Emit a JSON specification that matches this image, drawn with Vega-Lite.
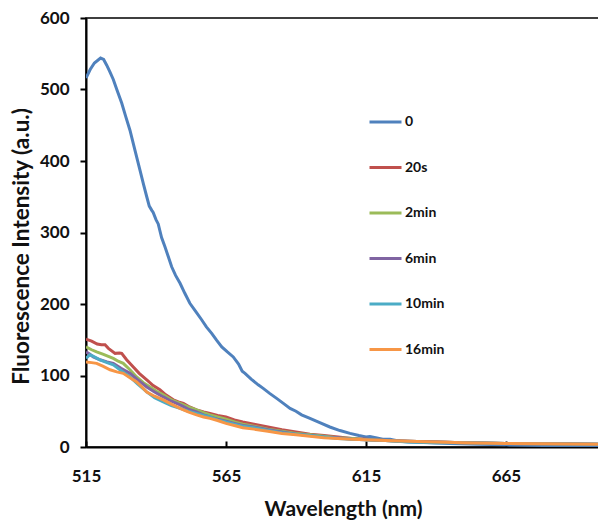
{
"$schema": "https://vega.github.io/schema/vega-lite/v6.json",
"autosize": "none",
"padding": {"left": 86, "top": 18, "right": 0, "bottom": 73},
"width": 514,
"height": 429,
"background": "white",
"config": {"view": {"stroke": "black", "strokeWidth": 1.5}, "font": "Lato"},
"data": {"values": [
{"s":"0","w":515,"v":516},{"s":"0","w":516.5,"v":528},{"s":"0","w":518,"v":537},{"s":"0","w":520.2,"v":544},{"s":"0","w":521.3,"v":542},{"s":"0","w":522.4,"v":534},{"s":"0","w":523.5,"v":525},{"s":"0","w":524.75,"v":514},{"s":"0","w":526,"v":500},{"s":"0","w":527.75,"v":481},{"s":"0","w":529.2,"v":462},{"s":"0","w":530.7,"v":443},{"s":"0","w":532.5,"v":415},{"s":"0","w":534.3,"v":387},{"s":"0","w":535.5,"v":368},{"s":"0","w":536.7,"v":350},{"s":"0","w":537.6,"v":337},{"s":"0","w":538.5,"v":331},{"s":"0","w":539,"v":328},{"s":"0","w":540,"v":318},{"s":"0","w":540.8,"v":312},{"s":"0","w":542,"v":293},{"s":"0","w":543.2,"v":280},{"s":"0","w":544.5,"v":265},{"s":"0","w":545.6,"v":252},{"s":"0","w":547,"v":240},{"s":"0","w":548.6,"v":229},{"s":"0","w":550.3,"v":215},{"s":"0","w":552.1,"v":201},{"s":"0","w":554.3,"v":189},{"s":"0","w":556.3,"v":178},{"s":"0","w":558,"v":168},{"s":"0","w":559.9,"v":159},{"s":"0","w":561.7,"v":149},{"s":"0","w":563.5,"v":140},{"s":"0","w":565.5,"v":133},{"s":"0","w":567.6,"v":126},{"s":"0","w":569.5,"v":116},{"s":"0","w":570.8,"v":106},{"s":"0","w":571.8,"v":103},{"s":"0","w":574,"v":95},{"s":"0","w":576.5,"v":87},{"s":"0","w":578.3,"v":82},{"s":"0","w":580.6,"v":75},{"s":"0","w":583.1,"v":68},{"s":"0","w":585.5,"v":61},{"s":"0","w":587.9,"v":54},{"s":"0","w":590,"v":50},{"s":"0","w":592,"v":45},{"s":"0","w":595,"v":40},{"s":"0","w":598.5,"v":34},{"s":"0","w":602.1,"v":28},{"s":"0","w":605.7,"v":23},{"s":"0","w":609.3,"v":19},{"s":"0","w":612.5,"v":16},{"s":"0","w":615,"v":14},{"s":"0","w":616.4,"v":14.5},{"s":"0","w":618.5,"v":13},{"s":"0","w":621,"v":11},{"s":"0","w":623.6,"v":11},{"s":"0","w":627,"v":8},{"s":"0","w":630.7,"v":7},{"s":"0","w":638,"v":6},{"s":"0","w":645,"v":5},{"s":"0","w":655,"v":4},{"s":"0","w":665,"v":3},{"s":"0","w":680,"v":2},{"s":"0","w":698.6,"v":2},
{"s":"20s","w":515,"v":151},{"s":"20s","w":517,"v":148},{"s":"20s","w":519,"v":144},{"s":"20s","w":520.5,"v":143},{"s":"20s","w":521.8,"v":143},{"s":"20s","w":523,"v":138},{"s":"20s","w":525.4,"v":131},{"s":"20s","w":527,"v":131.5},{"s":"20s","w":527.75,"v":131},{"s":"20s","w":529.5,"v":122},{"s":"20s","w":531.9,"v":112},{"s":"20s","w":534,"v":103},{"s":"20s","w":536.7,"v":94},{"s":"20s","w":539,"v":86},{"s":"20s","w":541.4,"v":80},{"s":"20s","w":543.5,"v":73},{"s":"20s","w":546.2,"v":66},{"s":"20s","w":548,"v":63},{"s":"20s","w":549.8,"v":61},{"s":"20s","w":552,"v":56},{"s":"20s","w":554.5,"v":52},{"s":"20s","w":557,"v":49},{"s":"20s","w":559.3,"v":47},{"s":"20s","w":562,"v":44},{"s":"20s","w":565,"v":42},{"s":"20s","w":568,"v":38},{"s":"20s","w":571,"v":35},{"s":"20s","w":575,"v":32},{"s":"20s","w":580,"v":28},{"s":"20s","w":585,"v":24},{"s":"20s","w":590,"v":21},{"s":"20s","w":595,"v":18},{"s":"20s","w":600,"v":16},{"s":"20s","w":605,"v":14},{"s":"20s","w":610,"v":12},{"s":"20s","w":615,"v":11},{"s":"20s","w":622,"v":9},{"s":"20s","w":630,"v":8},{"s":"20s","w":640,"v":7},{"s":"20s","w":650,"v":6},{"s":"20s","w":665,"v":5},{"s":"20s","w":680,"v":4.5},{"s":"20s","w":698.6,"v":4},
{"s":"2min","w":515,"v":140},{"s":"2min","w":517,"v":136},{"s":"2min","w":518.8,"v":133},{"s":"2min","w":521,"v":130},{"s":"2min","w":524.75,"v":124},{"s":"2min","w":526.5,"v":120},{"s":"2min","w":528.3,"v":117},{"s":"2min","w":530.7,"v":108},{"s":"2min","w":533.1,"v":98},{"s":"2min","w":535.5,"v":90},{"s":"2min","w":537.9,"v":84},{"s":"2min","w":540.2,"v":78},{"s":"2min","w":542.6,"v":73},{"s":"2min","w":545.5,"v":66},{"s":"2min","w":548.6,"v":61},{"s":"2min","w":551.5,"v":56},{"s":"2min","w":554.5,"v":52},{"s":"2min","w":557,"v":48},{"s":"2min","w":559.3,"v":45},{"s":"2min","w":562,"v":42},{"s":"2min","w":565,"v":39},{"s":"2min","w":568,"v":35},{"s":"2min","w":571,"v":32},{"s":"2min","w":575,"v":29},{"s":"2min","w":580,"v":25},{"s":"2min","w":585,"v":22},{"s":"2min","w":590,"v":19},{"s":"2min","w":595,"v":17},{"s":"2min","w":600,"v":15},{"s":"2min","w":605,"v":13},{"s":"2min","w":610,"v":12},{"s":"2min","w":615,"v":10},{"s":"2min","w":622,"v":9},{"s":"2min","w":630,"v":8},{"s":"2min","w":640,"v":7},{"s":"2min","w":650,"v":6},{"s":"2min","w":665,"v":5},{"s":"2min","w":680,"v":4.5},{"s":"2min","w":698.6,"v":4},
{"s":"6min","w":515,"v":133},{"s":"6min","w":516.3,"v":130},{"s":"6min","w":517.6,"v":126},{"s":"6min","w":520,"v":122},{"s":"6min","w":522.5,"v":119},{"s":"6min","w":524.75,"v":117},{"s":"6min","w":527.5,"v":110},{"s":"6min","w":530.7,"v":103},{"s":"6min","w":533.5,"v":94},{"s":"6min","w":536.7,"v":84},{"s":"6min","w":539.5,"v":77},{"s":"6min","w":542.6,"v":70},{"s":"6min","w":545.5,"v":64},{"s":"6min","w":548.6,"v":59},{"s":"6min","w":551.5,"v":53},{"s":"6min","w":554.5,"v":49},{"s":"6min","w":557,"v":45},{"s":"6min","w":559.3,"v":42},{"s":"6min","w":562,"v":39},{"s":"6min","w":565,"v":36},{"s":"6min","w":568,"v":33},{"s":"6min","w":571,"v":30},{"s":"6min","w":575,"v":28},{"s":"6min","w":580,"v":24},{"s":"6min","w":585,"v":21},{"s":"6min","w":590,"v":18},{"s":"6min","w":595,"v":16},{"s":"6min","w":600,"v":14},{"s":"6min","w":605,"v":13},{"s":"6min","w":610,"v":11},{"s":"6min","w":615,"v":10},{"s":"6min","w":622,"v":9},{"s":"6min","w":630,"v":8},{"s":"6min","w":640,"v":7},{"s":"6min","w":650,"v":6},{"s":"6min","w":665,"v":5},{"s":"6min","w":680,"v":4.5},{"s":"6min","w":698.6,"v":4},
{"s":"10min","w":515,"v":124},{"s":"10min","w":516.4,"v":129},{"s":"10min","w":517.5,"v":127},{"s":"10min","w":520,"v":122},{"s":"10min","w":522.5,"v":118},{"s":"10min","w":524.75,"v":115},{"s":"10min","w":527.5,"v":107},{"s":"10min","w":530.7,"v":98},{"s":"10min","w":533.5,"v":88},{"s":"10min","w":536.7,"v":77},{"s":"10min","w":539.5,"v":69},{"s":"10min","w":542.6,"v":63},{"s":"10min","w":545.5,"v":58},{"s":"10min","w":548.6,"v":54},{"s":"10min","w":551.5,"v":50},{"s":"10min","w":554.5,"v":47},{"s":"10min","w":557,"v":44},{"s":"10min","w":559.3,"v":42},{"s":"10min","w":562,"v":38},{"s":"10min","w":565,"v":35},{"s":"10min","w":568,"v":32},{"s":"10min","w":571,"v":29},{"s":"10min","w":575,"v":27},{"s":"10min","w":580,"v":23},{"s":"10min","w":585,"v":20},{"s":"10min","w":590,"v":18},{"s":"10min","w":595,"v":16},{"s":"10min","w":600,"v":14},{"s":"10min","w":605,"v":12},{"s":"10min","w":610,"v":11},{"s":"10min","w":615,"v":10},{"s":"10min","w":622,"v":9},{"s":"10min","w":630,"v":7},{"s":"10min","w":640,"v":6},{"s":"10min","w":650,"v":6},{"s":"10min","w":665,"v":5},{"s":"10min","w":680,"v":4.5},{"s":"10min","w":698.6,"v":4},
{"s":"16min","w":515,"v":119},{"s":"16min","w":517,"v":118},{"s":"16min","w":518.8,"v":117},{"s":"16min","w":521,"v":113},{"s":"16min","w":523.6,"v":108},{"s":"16min","w":526,"v":105},{"s":"16min","w":528.3,"v":103},{"s":"16min","w":530.7,"v":97},{"s":"16min","w":533.1,"v":91},{"s":"16min","w":535,"v":84},{"s":"16min","w":536.7,"v":77},{"s":"16min","w":539.5,"v":71},{"s":"16min","w":542.6,"v":66},{"s":"16min","w":545.5,"v":60},{"s":"16min","w":548.6,"v":54},{"s":"16min","w":551.5,"v":49},{"s":"16min","w":554.5,"v":45},{"s":"16min","w":557,"v":42},{"s":"16min","w":559.3,"v":40},{"s":"16min","w":562,"v":37},{"s":"16min","w":565,"v":33},{"s":"16min","w":568,"v":30},{"s":"16min","w":571,"v":27},{"s":"16min","w":575,"v":25},{"s":"16min","w":580,"v":22},{"s":"16min","w":585,"v":19},{"s":"16min","w":590,"v":17},{"s":"16min","w":595,"v":15},{"s":"16min","w":600,"v":13},{"s":"16min","w":605,"v":12},{"s":"16min","w":610,"v":11},{"s":"16min","w":615,"v":10},{"s":"16min","w":622,"v":9},{"s":"16min","w":630,"v":8},{"s":"16min","w":640,"v":7},{"s":"16min","w":650,"v":6},{"s":"16min","w":665,"v":5},{"s":"16min","w":680,"v":4.5},{"s":"16min","w":698.6,"v":4}
]},
"mark": {"type": "line", "strokeWidth": 3, "clip": true},
"encoding": {
  "x": {"field": "w", "type": "quantitative",
    "scale": {"domain": [515, 698.6], "nice": false, "zero": false},
    "axis": {"values": [515, 565, 615, 665], "title": "Wavelength (nm)", "grid": false, "labelFlush": false,
      "domainColor": "black", "domainWidth": 2, "tickColor": "black", "tickWidth": 2, "tickSize": -6,
      "labelFont": "Lato", "labelFontWeight": "bold", "labelFontSize": 17, "labelColor": "#111", "labelPadding": 27,
      "titleFont": "Lato", "titleFontWeight": "bold", "titleFontSize": 21, "titleColor": "#111", "titlePadding": 14}},
  "y": {"field": "v", "type": "quantitative",
    "scale": {"domain": [0, 600], "nice": false},
    "axis": {"values": [0, 100, 200, 300, 400, 500, 600], "title": "Fluorescence Intensity (a.u.)", "grid": false,
      "domainColor": "black", "domainWidth": 2, "tickColor": "black", "tickWidth": 2, "tickSize": 6,
      "labelFont": "Lato", "labelFontWeight": "bold", "labelFontSize": 17, "labelColor": "#111", "labelPadding": 11,
      "titleFont": "Lato", "titleFontWeight": "bold", "titleFontSize": 22.5, "titleColor": "#111", "titlePadding": 6, "titleY": 228, "titleAnchor": "middle", "titleBaseline": "bottom"}},
  "color": {"field": "s", "type": "nominal",
    "scale": {"domain": ["0", "20s", "2min", "6min", "10min", "16min"],
      "range": ["#4F81BD", "#C0504D", "#9BBB59", "#8064A2", "#4BACC6", "#F79646"]},
    "legend": {"orient": "none", "legendX": 282, "legendY": 96, "title": null, "direction": "vertical",
      "symbolType": "stroke", "symbolSize": 1024, "symbolStrokeWidth": 3, "clipHeight": 16, "rowPadding": 29.5,
      "labelFont": "Lato", "labelFontWeight": "bold", "labelFontSize": 14, "labelColor": "#111", "labelOffset": 2, "padding": 0}}
}
}
